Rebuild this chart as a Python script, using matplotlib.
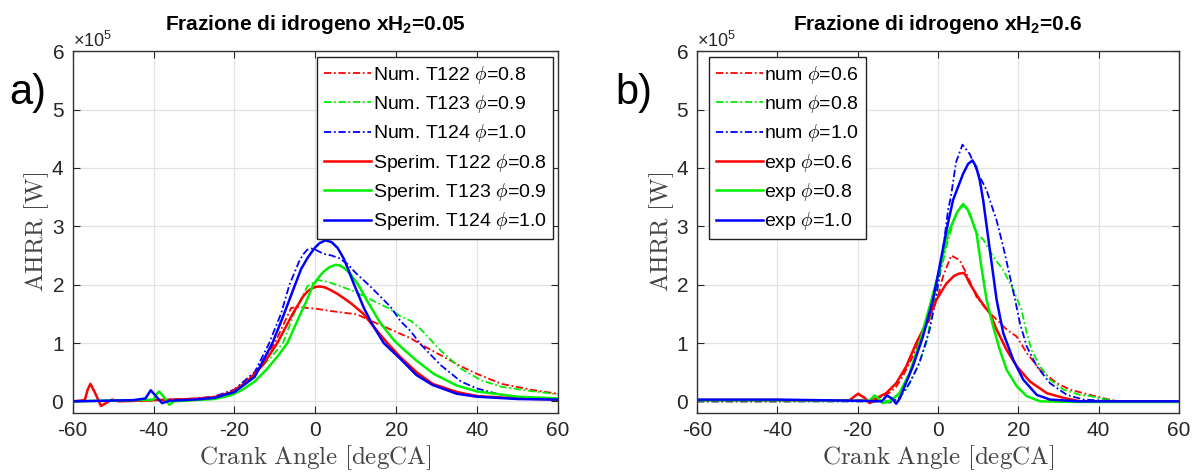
import numpy as np
import matplotlib
matplotlib.use('Agg')
import matplotlib.pyplot as plt
from matplotlib.ticker import ScalarFormatter

plt.rcParams['font.family'] = ['Liberation Sans', 'DejaVu Sans']
plt.rcParams['mathtext.fontset'] = 'custom'
plt.rcParams['mathtext.rm'] = 'Liberation Sans'
plt.rcParams['mathtext.it'] = 'Liberation Sans:italic'
plt.rcParams['mathtext.bf'] = 'Liberation Sans:bold'
plt.rcParams['axes.unicode_minus'] = False

# pannello a) xH2=0.05, valori in 1e5 W
a_num122_x = [-60, -40, -30, -25, -20, -15, -10, -8, -6, -4, -2, 0, 3.6, 7, 10.3, 14.4, 20.3, 23.6, 26, 31, 36, 40, 46, 54, 60]
a_num122_y = [0.0, 0.02, 0.05, 0.08, 0.2, 0.5, 1.0, 1.3, 1.6, 1.62, 1.6, 1.59, 1.55, 1.52, 1.49, 1.36, 1.18, 1.08, 0.98, 0.79, 0.6, 0.47, 0.3, 0.19, 0.13]
a_num123_x = [-60, -40, -30, -25, -20, -14.7, -11, -8, -5, -2, 0.6, 3, 6, 9.4, 14.4, 18, 21, 23.6, 26, 31, 36, 41, 46, 54, 60]
a_num123_y = [0.0, 0.02, 0.04, 0.07, 0.15, 0.5, 0.75, 1.0, 1.55, 1.97, 2.08, 2.05, 1.98, 1.89, 1.72, 1.6, 1.46, 1.38, 1.24, 0.87, 0.56, 0.36, 0.25, 0.17, 0.12]
a_num124_x = [-60, -40, -30, -25, -20, -15, -11.4, -8.5, -6.4, -4, -3, -2, -1, 0, 2, 4, 6, 8, 10, 13.6, 18.6, 21, 23.6, 26, 31, 36, 40, 46, 52, 60]
a_num124_y = [0.0, 0.02, 0.04, 0.08, 0.2, 0.5, 1.0, 1.5, 2.0, 2.4, 2.52, 2.6, 2.62, 2.6, 2.53, 2.5, 2.45, 2.35, 2.2, 1.97, 1.62, 1.38, 1.2, 0.98, 0.62, 0.34, 0.22, 0.11, 0.06, 0.03]
a_exp122_x = [-60, -57, -56.3, -55.6, -54.5, -53, -51.5, -50.3, -48.5, -40, -30, -25, -21, -17, -13, -9.4, -5.6, -3, -2, -1, 0, 1.1, 2.5, 4, 5.5, 7, 9, 11.9, 15, 17.8, 21, 25, 29, 35, 40, 50, 60]
a_exp122_y = [0.0, 0.02, 0.2, 0.3, 0.15, -0.08, -0.02, 0.03, 0.0, 0.02, 0.04, 0.07, 0.15, 0.33, 0.62, 1.0, 1.5, 1.8, 1.88, 1.93, 1.96, 1.97, 1.95, 1.9, 1.84, 1.77, 1.67, 1.5, 1.23, 1.0, 0.76, 0.5, 0.3, 0.16, 0.09, 0.05, 0.03]
a_exp123_x = [-60, -45, -40, -39.3, -38.6, -37.5, -36.1, -35, -30, -25, -21, -18, -15, -12, -9, -6.9, -4, -2, -0.5, 1, 2, 3.5, 5, 6, 7, 8, 9, 10.6, 13, 16, 19.4, 22, 25, 29.3, 35, 40, 50, 60]
a_exp123_y = [0.0, 0.02, 0.03, 0.12, 0.17, 0.08, -0.06, 0.0, 0.02, 0.04, 0.1, 0.2, 0.34, 0.55, 0.8, 1.0, 1.45, 1.75, 2.0, 2.14, 2.22, 2.3, 2.34, 2.33, 2.29, 2.23, 2.15, 2.0, 1.7, 1.35, 1.05, 0.88, 0.7, 0.47, 0.27, 0.17, 0.08, 0.05]
a_exp124_x = [-60, -45, -42, -40.7, -39.3, -37.9, -36, -30, -25, -20, -15, -10.6, -8, -5, -3.5, -2, -1, 0, 1, 2.5, 4, 5.5, 7, 8.2, 9.3, 10.5, 12, 14, 16.9, 21, 25, 29, 35, 40, 50, 60]
a_exp124_y = [0.0, 0.02, 0.05, 0.19, 0.08, -0.03, 0.01, 0.03, 0.06, 0.16, 0.42, 1.0, 1.45, 2.0, 2.27, 2.45, 2.55, 2.64, 2.71, 2.76, 2.73, 2.63, 2.45, 2.25, 2.05, 1.85, 1.6, 1.33, 1.0, 0.73, 0.45, 0.28, 0.13, 0.08, 0.04, 0.03]

# pannello b) xH2=0.6
b_num06_x = [-60, -40, -30, -20, -15, -12, -10.4, -8.75, -6.25, -4.6, -2.1, 0, 1.25, 3.3, 5.4, 7.1, 9.6, 12.1, 14.6, 17.1, 19.6, 22.1, 25.4, 29.6, 32.9, 37.9, 42, 45, 50, 60]
b_num06_y = [0.0, 0.0, 0.01, 0.02, 0.05, 0.15, 0.25, 0.43, 0.77, 1.05, 1.4, 1.8, 2.14, 2.5, 2.42, 2.19, 1.79, 1.57, 1.4, 1.23, 1.11, 0.83, 0.54, 0.31, 0.2, 0.11, 0.04, 0.0, 0.0, 0.0]
b_num08_x = [-60, -40, -20, -14, -10.4, -7.9, -5.4, -2.9, -1.25, 0.4, 2.1, 4, 5.2, 6.25, 7.5, 8.75, 9.6, 11.3, 13.75, 16.25, 18.75, 20.8, 22.1, 23.3, 25.4, 27.9, 31.25, 35.4, 37.9, 43.5, 50, 60]
b_num08_y = [0.0, 0.0, 0.0, 0.0, 0.03, 0.2, 0.54, 1.0, 1.62, 2.14, 2.65, 3.1, 3.3, 3.39, 3.25, 3.05, 2.88, 2.77, 2.48, 2.25, 1.91, 1.57, 1.17, 0.88, 0.6, 0.37, 0.2, 0.11, 0.09, 0.01, 0.0, 0.0]
b_num10_x = [-60, -40, -20, -15, -12, -9.6, -7.1, -4.6, -2.1, -0.4, 1.25, 2.5, 3.2, 4.5, 6.1, 7.9, 10.4, 12.1, 12.9, 14.6, 16.25, 17.9, 19.2, 20.4, 22.1, 24.6, 27.9, 32.1, 36.25, 45, 60]
b_num10_y = [0.0, 0.0, 0.0, 0.0, -0.02, 0.06, 0.31, 0.66, 1.22, 1.8, 2.59, 3.28, 3.5, 4.1, 4.4, 4.24, 3.85, 3.62, 3.45, 3.1, 2.65, 2.14, 1.74, 1.34, 0.94, 0.6, 0.31, 0.11, 0.03, 0.0, 0.0]
b_exp06_x = [-60, -40, -25, -22, -20.5, -19.9, -18.5, -17, -15.5, -14.6, -12.9, -10.4, -7.9, -5.4, -2.9, -0.4, 2.1, 4, 5.3, 6.5, 7.2, 7.9, 10.4, 12.9, 14.6, 17.1, 19.6, 22.9, 27.1, 31.25, 35.4, 45, 60]
b_exp06_y = [0.02, 0.02, 0.01, 0.02, 0.1, 0.13, 0.07, -0.03, 0.02, 0.08, 0.14, 0.31, 0.6, 1.0, 1.34, 1.74, 2.02, 2.15, 2.19, 2.2, 2.12, 2.02, 1.74, 1.51, 1.23, 0.88, 0.6, 0.34, 0.14, 0.06, 0.0, 0.0, 0.0]
b_exp08_x = [-60, -40, -20, -17, -15.8, -14.8, -13.7, -12, -9.6, -7.1, -4.6, -2.1, 0.4, 2.5, 4.6, 5.6, 6.5, 7.2, 7.9, 9.6, 10.8, 12.1, 13.75, 15.4, 17.1, 19.6, 22.1, 25.4, 35, 60]
b_exp08_y = [0.02, 0.02, 0.01, 0.01, 0.1, 0.05, -0.03, 0.0, 0.14, 0.48, 1.0, 1.62, 2.25, 2.88, 3.22, 3.32, 3.36, 3.31, 3.22, 2.88, 2.31, 1.74, 1.28, 0.88, 0.54, 0.26, 0.09, 0.0, -0.01, -0.01]
b_exp10_x = [-60, -40, -20, -14, -12.7, -11.5, -10.4, -9.5, -8.3, -6.25, -3.75, -1.25, 0.4, 2.1, 3.75, 6.25, 7.5, 8.6, 9.5, 10.4, 11.25, 12.9, 14.6, 16.25, 18.75, 21.25, 24.6, 27.9, 35, 60]
b_exp10_y = [0.03, 0.03, 0.01, 0.0, 0.1, 0.05, -0.04, 0.05, 0.26, 0.6, 1.11, 1.74, 2.31, 2.93, 3.45, 3.9, 4.07, 4.13, 4.02, 3.79, 3.45, 2.6, 1.74, 1.17, 0.71, 0.37, 0.11, 0.03, 0.0, 0.0]

a_labels = ['Num. T122 $\\phi$=0.8', 'Num. T123 $\\phi$=0.9', 'Num. T124 $\\phi$=1.0',
            'Sperim. T122 $\\phi$=0.8', 'Sperim. T123 $\\phi$=0.9', 'Sperim. T124 $\\phi$=1.0']
b_labels = ['num $\\phi$=0.6', 'num $\\phi$=0.8', 'num $\\phi$=1.0',
            'exp $\\phi$=0.6', 'exp $\\phi$=0.8', 'exp $\\phi$=1.0']
colors = ['#ff0000', '#00ee00', '#0000ff']
dashdot = (0, (4, 1.5, 1, 1.5))

fig = plt.figure(figsize=(11.99, 4.75), dpi=100)
ax1 = fig.add_axes([0.0606, 0.1305, 0.4048, 0.7615])
ax2 = fig.add_axes([0.5813, 0.1305, 0.402, 0.7615])

panels = [
    (ax1, [(a_num122_x, a_num122_y), (a_num123_x, a_num123_y), (a_num124_x, a_num124_y)],
     [(a_exp122_x, a_exp122_y), (a_exp123_x, a_exp123_y), (a_exp124_x, a_exp124_y)],
     a_labels, 'Frazione di idrogeno xH$_\\mathbf{2}$=0.05', 'upper right', (0.99, 0.985)),
    (ax2, [(b_num06_x, b_num06_y), (b_num08_x, b_num08_y), (b_num10_x, b_num10_y)],
     [(b_exp06_x, b_exp06_y), (b_exp08_x, b_exp08_y), (b_exp10_x, b_exp10_y)],
     b_labels, 'Frazione di idrogeno xH$_\\mathbf{2}$=0.6', 'upper left', (0.025, 0.985)),
]

for ax, nums, exps, labels, title, loc, anchor in panels:
    for (x, y), c, lab in zip(nums, colors, labels[:3]):
        ax.plot(x, np.array(y) * 1e5, color=c, lw=1.3, ls=dashdot, label=lab)
    for (x, y), c, lab in zip(exps, colors, labels[3:]):
        ax.plot(x, np.array(y) * 1e5, color=c, lw=1.8, ls='-', label=lab)
    ax.set_xlim(-60, 60)
    ax.set_ylim(-0.2e5, 6e5)
    ax.set_xticks(np.arange(-60, 61, 20))
    ax.set_yticks(np.arange(0, 6.1e5, 1e5))
    fmt = ScalarFormatter(useMathText=True)
    fmt.set_powerlimits((0, 0))
    ax.yaxis.set_major_formatter(fmt)
    ax.yaxis.get_offset_text().set_fontsize(13)
    ax.yaxis.get_offset_text().set_color('#444444')
    ax.grid(True, color='#e3e3e3', lw=0.9)
    ax.set_axisbelow(True)
    ax.tick_params(direction='in', top=True, right=True, length=5, labelsize=15,
                   colors='#262626', pad=6)
    for s in ax.spines.values():
        s.set_color('#333333')
        s.set_linewidth(1.0)
    ax.set_xlabel(r'$\mathrm{Crank\ Angle\ [degCA]}$', math_fontfamily='cm',
                  fontsize=18, color='#444444', labelpad=2)
    ax.set_ylabel(r'$\mathrm{AHRR\ [W]}$', math_fontfamily='cm',
                  fontsize=18, color='#444444', labelpad=0)
    ax.set_title(title, fontsize=15, fontweight='bold', pad=15)
    leg = ax.legend(loc=loc, bbox_to_anchor=anchor, borderaxespad=0, fontsize=14,
                    handlelength=2.4, handletextpad=0.1, labelspacing=0.38,
                    borderpad=0.35, fancybox=False, framealpha=1)
    leg.get_frame().set_edgecolor('#222222')
    leg.get_frame().set_linewidth(1.0)
    for t in leg.get_texts():
        t.set_math_fontfamily('cm')

fig.text(0.008, 0.805, 'a)', fontsize=30, va='center')
fig.text(0.513, 0.805, 'b)', fontsize=30, va='center')

fig.savefig('out.png', dpi=100)
